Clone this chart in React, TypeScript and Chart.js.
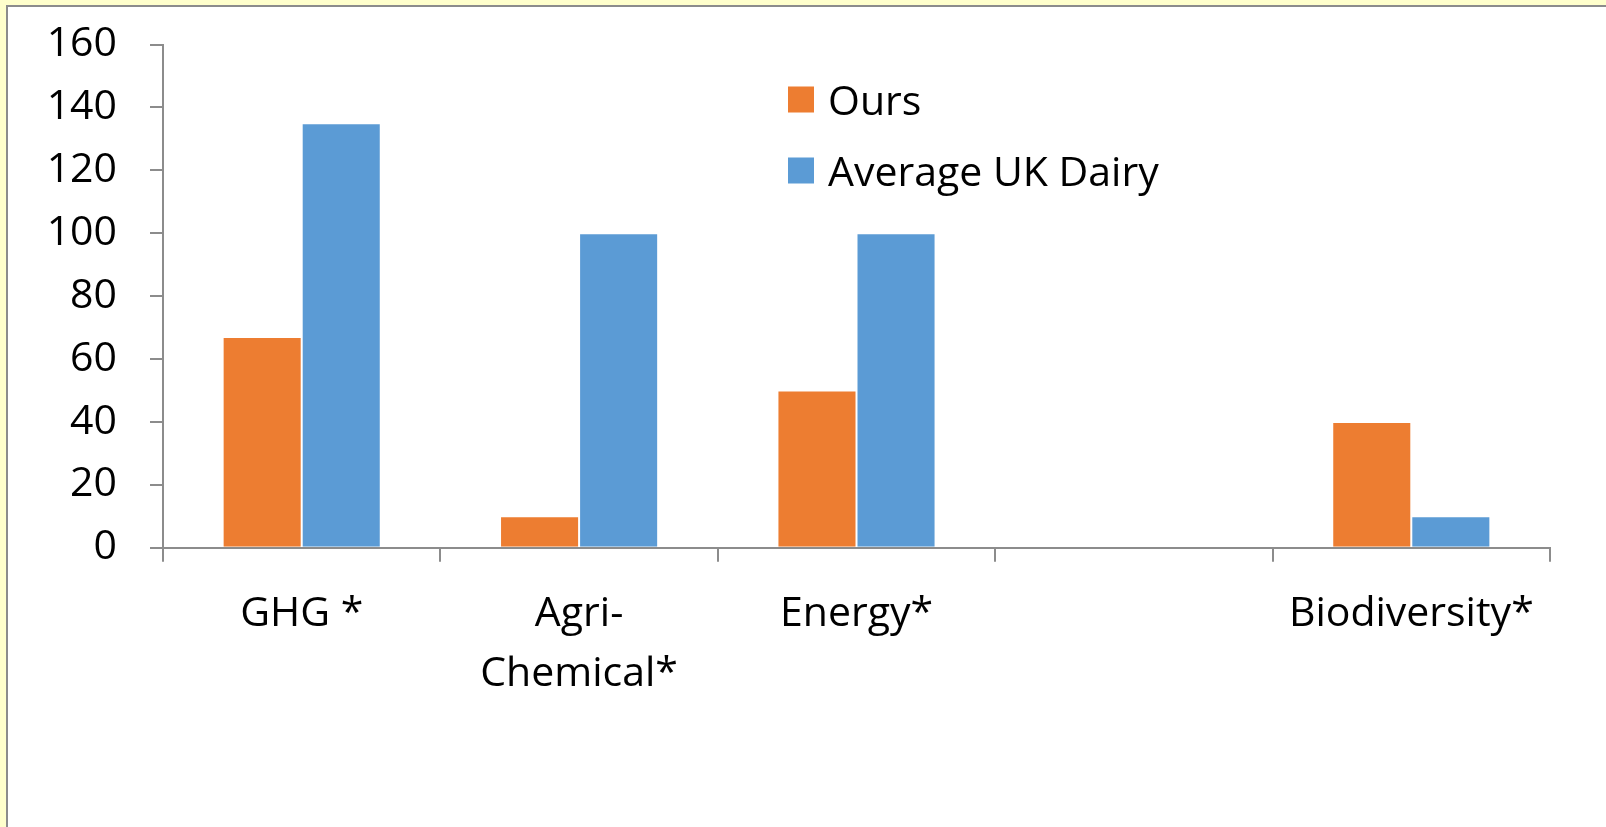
import React, { useEffect, useRef } from "react";
import { Chart, registerables } from "chart.js";

Chart.register(...registerables);

const categories: (string | string[])[] = ["GHG *", ["Agri-", "Chemical*"], "Energy*", "", "Biodiversity*"];
const seriesNames = ["Ours", "Average UK Dairy"];
const oursValues = [67, 10, 50, null, 40];
const ukDairyValues = [135, 100, 100, null, 10];
const seriesColors = ["#ED7D31", "#5B9BD5"];
const yMin = 0;
const yMax = 160;
const yStep = 20;

const FONT = "'Open Sans', 'Noto Sans', sans-serif";
const FONT_SIZE = 41;
const AXIS_COLOR = "#8C8C8C";
const PAGE_BG = "#FFFFCC";

const frameBackground = {
  id: "frameBackground",
  beforeDraw(chart: any) {
    const { ctx } = chart;
    const w = ctx.canvas.width;
    const h = ctx.canvas.height;
    ctx.save();
    ctx.fillStyle = "#FFFFFF";
    ctx.fillRect(0, 0, w, h);
    ctx.fillStyle = PAGE_BG;
    ctx.fillRect(0, 0, w, 5);
    ctx.fillRect(0, 0, 6, h);
    ctx.fillStyle = AXIS_COLOR;
    ctx.fillRect(6, 5, w - 6, 2);
    ctx.fillRect(6, 5, 2, h - 5);
    ctx.restore();
  },
};

const insideLegend = {
  id: "insideLegend",
  afterDatasetsDraw(chart: any) {
    const { ctx, chartArea } = chart;
    const x0 = chartArea.left + 625;
    const y0 = chartArea.top + 55;
    const rowGap = 71;
    const box = 26;
    ctx.save();
    ctx.font = `${FONT_SIZE}px ${FONT}`;
    ctx.textBaseline = "alphabetic";
    ctx.textAlign = "left";
    chart.data.datasets.forEach((ds: any, i: number) => {
      const cy = y0 + i * rowGap;
      ctx.fillStyle = ds.backgroundColor;
      ctx.fillRect(x0, cy - box / 2, box, box);
      ctx.fillStyle = "#000";
      ctx.fillText(ds.label, x0 + 40, cy + 15);
    });
    ctx.restore();
  },
};

export default function App() {
  const ref = useRef<HTMLCanvasElement | null>(null);

  useEffect(() => {
    document.body.style.margin = "0";
    document.body.style.overflow = "hidden";
    document.body.style.background = "#FFFFFF";
    if (!ref.current) return;
    const chart = new Chart(ref.current, {
      type: "bar",
      data: {
        labels: categories,
        datasets: [
          {
            label: seriesNames[0],
            data: oursValues,
            backgroundColor: seriesColors[0],
            borderColor: "rgba(255,255,255,0.5)",
            borderWidth: 1,
            categoryPercentage: 0.57,
            barPercentage: 1,
          },
          {
            label: seriesNames[1],
            data: ukDairyValues,
            backgroundColor: seriesColors[1],
            borderColor: "rgba(255,255,255,0.5)",
            borderWidth: 1,
            categoryPercentage: 0.57,
            barPercentage: 1,
          },
        ],
      },
      options: {
        animation: false,
        responsive: false,
        maintainAspectRatio: false,
        layout: { padding: { left: 8, right: 56, top: 44.5, bottom: 0 } },
        plugins: {
          legend: { display: false },
          tooltip: { enabled: false },
        },
        scales: {
          x: {
            grid: {
              display: true,
              drawOnChartArea: false,
              drawTicks: true,
              tickLength: 14,
              color: AXIS_COLOR,
              lineWidth: 2,
              offset: true,
            },
            border: { display: true, color: AXIS_COLOR, width: 2 },
            ticks: {
              color: "#000",
              font: { family: FONT, size: FONT_SIZE, lineHeight: 1.48 },
              padding: 22,
              maxRotation: 0,
              autoSkip: false,
            },
            afterFit(scale: any) {
              scale.height = 279.3;
              scale.paddingLeft = 0;
              scale.paddingRight = 0;
            },
          },
          y: {
            min: yMin,
            max: yMax,
            grid: {
              display: true,
              drawOnChartArea: false,
              drawTicks: true,
              tickLength: 13,
              color: AXIS_COLOR,
              lineWidth: 2,
            },
            border: { display: true, color: AXIS_COLOR, width: 2 },
            ticks: {
              stepSize: yStep,
              color: "#000",
              font: { family: FONT, size: FONT_SIZE },
              padding: 33,
            },
            afterFit(scale: any) {
              scale.width = 155;
              scale.paddingTop = 0;
              scale.paddingBottom = 0;
            },
          },
        },
      },
      plugins: [frameBackground, insideLegend],
    });
    return () => chart.destroy();
  }, []);

  return (
    <canvas
      ref={ref}
      width={1606}
      height={827}
      style={{ position: "fixed", left: 0, top: 0, width: 1606, height: 827, display: "block" }}
    />
  );
}
